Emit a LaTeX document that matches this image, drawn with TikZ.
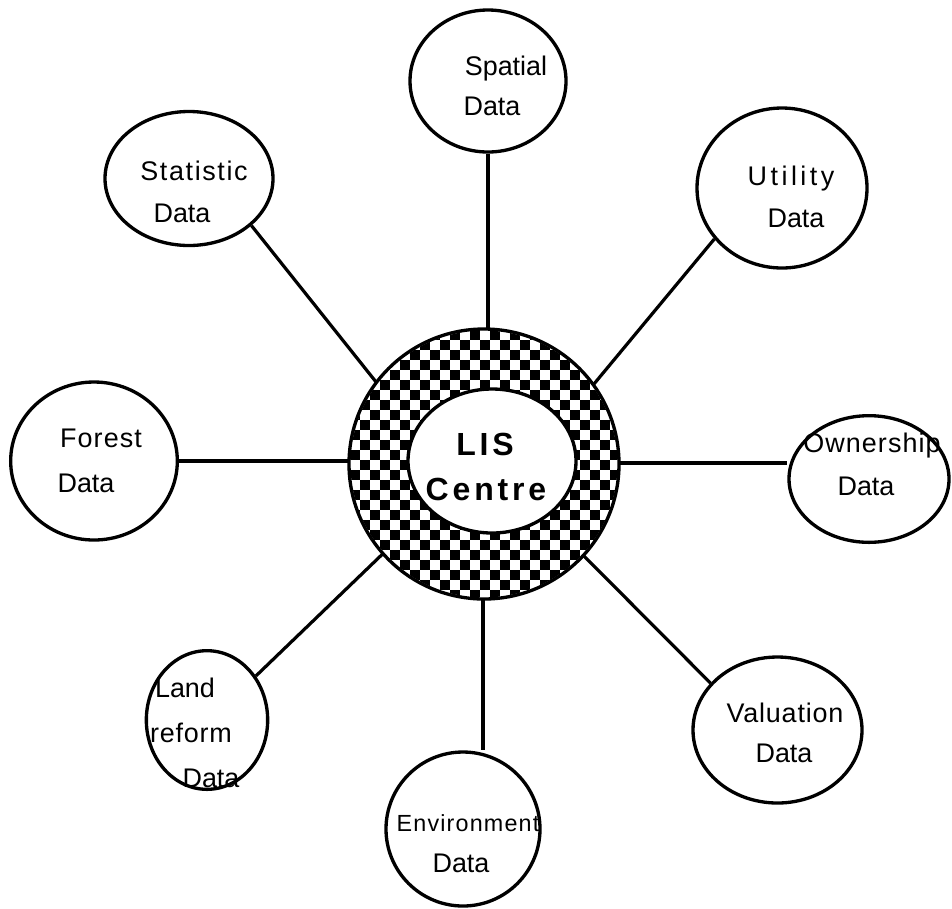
\documentclass[tikz,border=0pt]{standalone}
\usepackage{fontspec}
\setmainfont{Liberation Sans}
\usetikzlibrary{shapes.geometric}
\begin{document}
\begin{tikzpicture}[x=0.75pt,y=-0.75pt,
  bubble/.style={ellipse, draw, line width=2.5pt, inner sep=0pt},
  link/.style={line width=2.4pt},
  txt/.style={anchor=base, inner sep=0pt,
    font=\fontsize{20.2}{24}\selectfont\addfontfeatures{LetterSpace=#1}},
  txt/.default=0,
  smalltxt/.style={anchor=base, inner sep=0pt,
    font=\fontsize{17.5}{21}\selectfont\addfontfeatures{LetterSpace=5}},
  hubtxt/.style={anchor=base, inner sep=0pt,
    font=\fontsize{24}{28}\selectfont\bfseries\addfontfeatures{LetterSpace=12}},
]
\useasboundingbox (0,0) rectangle (952,908);

% satellite data bubbles
\node[bubble, minimum width=117pt,   minimum height=106.5pt] (spatial) at (488,81)  {};
\node[bubble, minimum width=126pt,   minimum height=100.5pt] (stat)    at (189,178.5) {};
\node[bubble, minimum width=127.5pt, minimum height=120pt]   (util)    at (782,188) {};
\node[bubble, minimum width=125pt,   minimum height=118.5pt] (forest)  at (94,461)  {};
\node[bubble, minimum width=120pt,   minimum height=95pt]    (own)     at (869,479) {};
\node[bubble, minimum width=91pt,    minimum height=104pt]   (land)    at (207,720) {};
\node[bubble, minimum width=126.75pt,minimum height=109.5pt] (val)     at (777.5,730) {};
\node[bubble, minimum width=115.5pt, minimum height=115.5pt] (env)     at (463,829) {};

% inner ends of the spokes (hidden under the hub)
\coordinate (cSp) at (488,380);
\coordinate (cSt) at (388,397);
\coordinate (cU)  at (584,396);
\coordinate (cF)  at (400,461);
\coordinate (cO)  at (570,463);
\coordinate (cL)  at (394,543);
\coordinate (cV)  at (572,544);
\coordinate (cEn) at (483,540);

% spokes
\draw[link] (spatial) -- (cSp);
\draw[link] (stat.-37) -- (cSt);
\draw[link] (util.-143) -- (cU);
\draw[link] (forest) -- (cF);
\draw[link] (cO) -- (cO -| own.west);
\draw[link] (land.42) -- (cL);
\draw[link] (val.145) -- (cV);
\draw[link] (cEn) -- (cEn |- env.north);

% central hub: chequered ring with a white core
\node[circle, draw, fill=white, line width=2.5pt, inner sep=0pt, minimum size=202.5pt] (ring) at (484,464) {};
\begin{scope}
  \clip (ring.center) circle [radius=133.5];
  \foreach \i in {0,...,29} {
    \foreach \j in {0,...,29} {
      \pgfmathtruncatemacro\k{mod(\i+\j,2)}
      \ifnum\k=0
        \fill (340+10*\i,320+10*\j) rectangle ++(9.5,9.5);
      \fi
    }
  }
\end{scope}
\node[ellipse, draw, fill=white, line width=2.5pt, inner sep=0pt,
      minimum width=126pt, minimum height=108pt] (hub) at (492,461) {};

% labels
\node[hubtxt] (hub-a) at (485,455) {LIS};
\node[hubtxt] (hub-b) at (486,500) {Centre};

\node[txt]    (spatial-a) at (506,75)  {Spatial};
\node[txt]    (spatial-b) at (492,115) {Data};
\node[txt=6]  (stat-a)    at (194,180) {Statistic};
\node[txt]    (stat-b)    at (182,222) {Data};
\node[txt=13] (util-a)    at (791,185) {Utility};
\node[txt]    (util-b)    at (796,227) {Data};
\node[txt=4]  (forest-a)  at (101,447) {Forest};
\node[txt]    (forest-b)  at (86,492)  {Data};
\node[txt=4]  (own-a)     at (872,452) {Ownership};
\node[txt]    (own-b)     at (866,495) {Data};
\node[txt]    (land-a)    at (185,697) {Land};
\node[txt=3]  (land-b)    at (191,742) {reform};
\node[txt]    (land-c)    at (211,787) {Data};
\node[txt=3]  (val-a)     at (785,722) {Valuation};
\node[txt]    (val-b)     at (784,762) {Data};
\node[smalltxt] (env-a)   at (468,831) {Environment};
\node[txt]    (env-b)     at (461,872) {Data};
\end{tikzpicture}
\end{document}
